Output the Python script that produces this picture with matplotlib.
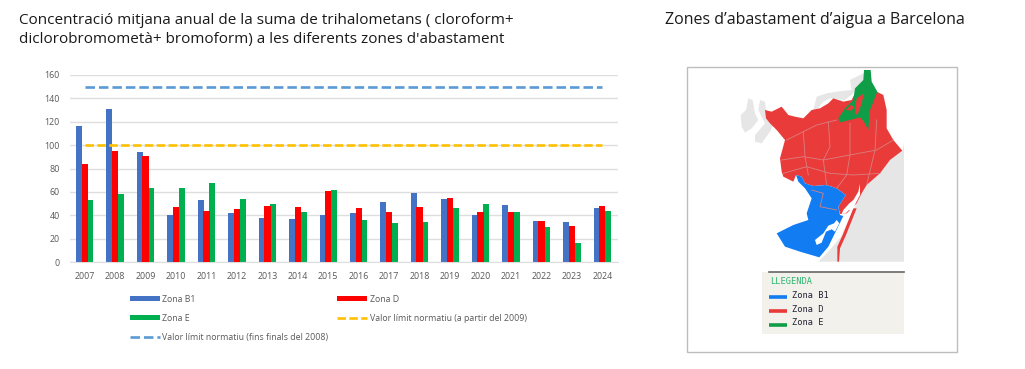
import matplotlib
matplotlib.use("Agg")
import matplotlib.pyplot as plt
import numpy as np
from matplotlib.patches import Polygon, Rectangle

W, H = 1025, 369

years = ["2007", "2008", "2009", "2010", "2011", "2012", "2013", "2014", "2015",
         "2016", "2017", "2018", "2019", "2020", "2021", "2022", "2023", "2024"]
zona_b1 = [116, 131, 94, 40, 53, 42, 38, 36.5, 40, 42, 51, 59, 54, 40, 49, 35, 34, 46]
zona_d = [84, 95, 91, 47, 44, 45, 48, 47, 61, 46, 42.5, 47, 55, 43, 42.5, 35, 31, 48]
zona_e = [53, 58, 63, 63, 68, 54, 50, 43, 62, 36, 33, 34, 46, 50, 42.5, 30, 16, 44]
limit_new = [100] * 18
limit_old = [150] * 18

# map outlines (3x pixels inside the frame crop)
map_grey = [
    [(205, 115), (218, 120), (225, 160), (235, 180), (215, 205), (195, 218), (185, 200), (182, 165), (198, 150)],
    [(240, 120), (255, 125), (258, 150), (285, 185), (270, 215), (245, 250), (225, 245), (225, 225), (255, 190), (235, 150)],
    [(400, 150), (410, 110), (440, 100), (470, 95), (515, 90), (510, 60), (550, 40), (555, 60), (520, 100), (495, 120), (450, 115), (430, 125), (410, 150)],
    [(672, 250), (672, 605), (415, 605), (445, 575), (483, 530), (505, 480), (530, 430), (545, 400), (560, 375), (600, 340), (630, 300), (667, 272)],
]
map_red = [
    [(255, 150), (275, 155), (305, 140), (325, 165), (345, 170), (370, 175), (395, 150), (420, 145), (445, 130), (460, 115),
     (490, 125), (515, 120), (525, 100), (590, 95), (610, 105), (620, 150), (620, 205), (640, 240), (667, 272), (630, 300),
     (600, 340), (560, 375), (545, 400), (530, 430), (500, 460), (480, 462), (475, 440), (497, 405), (470, 385), (440, 375),
     (400, 378), (375, 370), (365, 350), (348, 345), (340, 365), (310, 350), (305, 335), (300, 295), (315, 240), (290, 210),
     (270, 190), (258, 175)],
    [(488, 525), (520, 445), (530, 445), (498, 525), (480, 565), (477, 605), (472, 605), (472, 560)],
]
map_blue = [
    [(348, 345), (365, 350), (375, 370), (400, 378), (440, 375), (470, 385), (497, 405), (475, 440), (480, 465), (490, 468),
     (445, 560), (418, 592), (360, 575), (315, 560), (290, 520), (340, 495), (385, 480), (380, 460), (395, 415), (375, 385), (355, 365)],
]
map_green = [
    [(552, 30), (572, 30), (575, 65), (592, 95), (570, 150), (565, 210), (552, 185), (540, 172), (510, 180), (480, 187),
     (475, 175), (495, 145), (520, 120), (525, 85), (550, 60)],
]
map_red_over = [
    [(497, 150), (512, 135), (522, 140), (515, 152)],
    [(530, 115), (552, 100), (545, 130), (532, 165), (524, 160)],
]
map_white = [
    [(470, 480), (462, 490), (445, 497), (430, 520), (405, 540), (410, 555), (425, 548), (438, 515), (455, 508), (465, 515), (478, 490)],
    [(540, 372), (535, 395), (520, 420), (508, 430), (490, 450), (485, 462), (497, 460), (507, 450), (517, 450), (527, 430), (540, 405)],
]
map_borders = [
    [(320, 240), (370, 215), (410, 195), (470, 180)],
    [(305, 300), (370, 290), (430, 300), (510, 285), (590, 270), (640, 240)],
    [(310, 340), (380, 320), (450, 340), (520, 345), (600, 340)],
    [(370, 215), (375, 290), (385, 345)],
    [(445, 185), (450, 260), (430, 300), (440, 375)],
    [(510, 190), (510, 285), (500, 345), (470, 385)],
    [(590, 180), (585, 270), (560, 375)],
    [(395, 390), (430, 400), (420, 440), (470, 450)],
]
legend_y = [705, 747, 788]
legend_colors = ["#127cf2", "#e93a3a", "#0f9d48"]
legend_names = ["Zona B1", "Zona D", "Zona E"]

plt.rcParams['font.family'] = ['Open Sans', 'DejaVu Sans']

fig = plt.figure(figsize=(W / 100, H / 100), dpi=100)
ax = fig.add_axes([69.5 / W, 1 - 262 / H, 548 / W, 187 / H])

x = np.arange(len(years))
bw = 0.19
ax.bar(x - bw, zona_b1, bw, color="#4472c4", label="Zona B1", zorder=2)
ax.bar(x, zona_d, bw * 1.1, color="#ff0000", label="Zona D", zorder=3)
ax.bar(x + bw, zona_e, bw, color="#00b050", label="Zona E", zorder=2)
ax.plot(x, limit_new, "--", color="#ffc000", lw=1.9, dashes=(3.2, 1.3), label="Valor límit normatiu (a partir del 2009)", zorder=4)
ax.plot(x, limit_old, "--", color="#5b9bd5", lw=1.9, dashes=(3.6, 1.5), label="Valor límit normatiu (fins finals del 2008)", zorder=4)

ax.set_xlim(-0.5, 17.5)
ax.set_ylim(0, 160)
ax.set_yticks(np.arange(0, 161, 20))
ax.set_xticks(x)
ax.set_xticklabels(years)
ax.tick_params(length=0, labelsize=6.4, labelcolor="#595959")
ax.tick_params(axis="x", pad=7)
ax.tick_params(axis="y", pad=7)
ax.grid(axis="y", color="#dedede", lw=1)
ax.set_axisbelow(True)
for s in ["top", "left", "right"]:
    ax.spines[s].set_visible(False)
ax.spines["bottom"].set_color("#dedede")

h, l = ax.get_legend_handles_labels()
order = [l.index("Zona B1"), l.index("Zona E"), l.index("Valor límit normatiu (fins finals del 2008)"),
         l.index("Zona D"), l.index("Valor límit normatiu (a partir del 2009)")]
fig.legend([h[i] for i in order], [l[i] for i in order], ncols=2, frameon=False, fontsize=6.3,
           labelcolor="#595959", handlelength=3.4, handleheight=0.5, handletextpad=0.3, columnspacing=1.0,
           labelspacing=1.18, loc="upper left", bbox_to_anchor=(130 / W, 1 - 294.5 / H), borderaxespad=0, borderpad=0)

fig.text(19 / W, 1 - 21 / H, "Concentració mitjana anual de la suma de trihalometans ( cloroform+",
         fontsize=10.95, color="#1a1a1a", va="center")
fig.text(19 / W, 1 - 39 / H, "diclorobromometà+ bromoform) a les diferents zones d'abastament",
         fontsize=10.95, color="#1a1a1a", va="center")
fig.text(665 / W, 1 - 20 / H, "Zones d’abastament d’aigua a Barcelona",
         fontsize=11.55, color="#1a1a1a", va="center")

# map picture on the right, axes in the same units as the traced outlines
m = fig.add_axes([680 / W, 1 - 360 / H, 285 / W, 300 / H])
m.set_xlim(0, 855)
m.set_ylim(900, 0)
m.axis("off")
m.add_patch(Rectangle((22, 22), 810, 853, fc="white", ec="#bdbdbd", lw=1))
for p in map_grey:
    m.add_patch(Polygon(p, fc="#e6e6e6", ec="none"))
for p in map_red:
    m.add_patch(Polygon(p, fc="#ea3b3b", ec="none"))
for p in map_blue:
    m.add_patch(Polygon(p, fc="#127cf2", ec="none"))
for p in map_green:
    m.add_patch(Polygon(p, fc="#0f9d48", ec="none"))
for p in map_red_over:
    m.add_patch(Polygon(p, fc="#ea3b3b", ec="none"))
for p in map_white:
    m.add_patch(Polygon(p, fc="white", ec="none"))
for b in map_borders:
    bx, by = zip(*b)
    m.plot(bx, by, color="#d98080", lw=0.6)

m.add_patch(Rectangle((247, 635), 425, 187, fc="#f2f1ec", ec="none"))
m.plot([268, 672], [635, 635], color="#666666", lw=1.2)
m.text(270, 665, "LLEGENDA", family="DejaVu Sans Mono", fontsize=6.2, color="#2fb56e", va="center")
for yy, c, name in zip(legend_y, legend_colors, legend_names):
    m.plot([268, 322], [yy + 6, yy + 6], color=c, lw=2.6, solid_capstyle="butt")
    m.text(335, yy, name, family="DejaVu Sans Mono", fontsize=6.2, color="#222233", va="center")

fig.savefig("out.png", dpi=100)
